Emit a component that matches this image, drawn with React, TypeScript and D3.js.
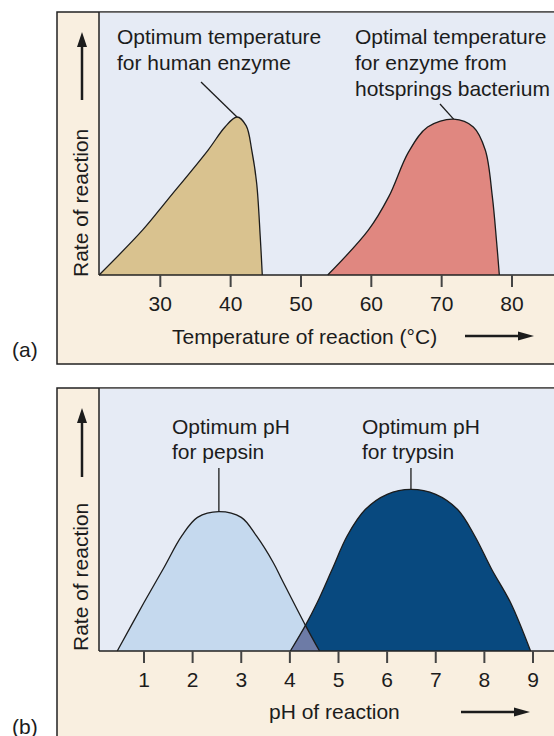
import * as d3 from 'd3';

// temperature panel (a)
const tempTicks = [30, 40, 50, 60, 70, 80];
const humanTemp = [21.3, 27.5, 31, 36.8, 39.2, 40.9, 42.2, 43.0, 43.7, 44.2, 44.5];
const humanRate = [0, 0.172, 0.286, 0.477, 0.565, 0.603, 0.57, 0.477, 0.35, 0.15, 0];
const hotTemp = [53.8, 59.6, 62.5, 65.3, 68, 71.7, 74.5, 76.2, 77.2, 77.8, 78.2];
const hotRate = [0, 0.172, 0.3, 0.47, 0.565, 0.595, 0.565, 0.477, 0.3, 0.13, 0];

// pH panel (b)
const phTicks = [1, 2, 3, 4, 5, 6, 7, 8, 9];
const pepsinPh = [0.45, 1.0, 1.4, 1.78, 2.1, 2.54, 3.0, 3.31, 3.66, 3.84, 4.32, 4.61];
const pepsinRate = [0, 0.185, 0.315, 0.44, 0.51, 0.532, 0.51, 0.44, 0.337, 0.271, 0.098, 0];
const trypsinPh = [4.01, 4.32, 4.56, 4.87, 5.18, 5.55, 6.0, 6.49, 7.0, 7.45, 7.8, 8.15, 8.54, 8.95];
const trypsinRate = [0, 0.098, 0.184, 0.312, 0.44, 0.54, 0.598, 0.617, 0.598, 0.54, 0.44, 0.312, 0.184, 0];

const font = '"Liberation Sans", Arial, sans-serif';
const fs = 21;
const beige = '#f9efe0';
const plotBg = '#e6ebf5';
const ink = '#1c1c1c';

const zip = (xs: number[], ys: number[]) => xs.map((x, i) => [x, ys[i]] as [number, number]);

const peakOf = (pts: [number, number][]) => pts.reduce((a, b) => (b[1] > a[1] ? b : a));

export default function App() {
  const left = 57;
  const plotLeft = 99;
  const right = 570;

  // panel a
  const aTop = 12, aBase = 275, aBottom = 364;
  const xT = d3.scaleLinear().domain([30, 80]).range([160.3, 512]);
  const yA = d3.scaleLinear().domain([0, 1]).range([aBase, aBase - 262]);

  // panel b
  const bTop = 388, bBase = 651;
  const xP = d3.scaleLinear().domain([1, 9]).range([144, 533]);
  const yB = d3.scaleLinear().domain([0, 1]).range([bBase, bBase - 262]);

  const curve = d3.curveCatmullRom.alpha(0.5);
  const areaA = d3.area<[number, number]>().x(d => xT(d[0])).y0(aBase).y1(d => yA(d[1])).curve(curve);
  const lineA = d3.line<[number, number]>().x(d => xT(d[0])).y(d => yA(d[1])).curve(curve);
  const areaB = d3.area<[number, number]>().x(d => xP(d[0])).y0(bBase).y1(d => yB(d[1])).curve(curve);
  const lineB = d3.line<[number, number]>().x(d => xP(d[0])).y(d => yB(d[1])).curve(curve);

  const human = zip(humanTemp, humanRate);
  const hot = zip(hotTemp, hotRate);
  const pepsin = zip(pepsinPh, pepsinRate);
  const trypsin = zip(trypsinPh, trypsinRate);

  const hp = peakOf(human), tp = peakOf(hot), pp = peakOf(pepsin), yp = peakOf(trypsin);

  const rateLabel = (baseY: number, arrowTop: number, arrowBottom: number) => (
    <g>
      <text transform={`translate(88,${baseY}) rotate(-90)`} fontSize={fs} fill={ink}>Rate of reaction</text>
      <line x1={82} y1={arrowBottom} x2={82} y2={arrowTop + 12} stroke={ink} strokeWidth={2.5} />
      <path d={`M82,${arrowTop} L77,${arrowTop + 15} L87,${arrowTop + 15} Z`} fill={ink} />
    </g>
  );

  const hArrow = (x1: number, x2: number, y: number) => (
    <g>
      <line x1={x1} y1={y} x2={x2 - 12} y2={y} stroke={ink} strokeWidth={2.5} />
      <path d={`M${x2},${y} L${x2 - 16},${y - 4.5} L${x2 - 16},${y + 4.5} Z`} fill={ink} />
    </g>
  );

  return (
    <svg width={554} height={736} style={{ position: 'absolute', left: 0, top: 0 }} fontFamily={font}>
      <rect width={554} height={736} fill="#fff" />

      {/* ---- panel (a) ---- */}
      <rect x={left} y={aTop} width={right - left} height={aBottom - aTop} fill={beige} stroke="#222" strokeWidth={1.5} />
      <rect x={plotLeft} y={aTop + 0.75} width={right - plotLeft} height={aBase - aTop - 0.75} fill={plotBg} />
      <path d={areaA(human) || ''} fill="#d9c28f" />
      <path d={lineA(human) || ''} fill="none" stroke={ink} strokeWidth={1.3} />
      <path d={areaA(hot) || ''} fill="#e08780" />
      <path d={lineA(hot) || ''} fill="none" stroke={ink} strokeWidth={1.3} />
      <line x1={plotLeft} y1={aTop} x2={plotLeft} y2={aBase} stroke="#222" strokeWidth={1.5} />
      <line x1={plotLeft} y1={aBase} x2={right} y2={aBase} stroke="#222" strokeWidth={1.5} />
      {tempTicks.map(t => (
        <g key={t}>
          <line x1={xT(t)} y1={aBase} x2={xT(t)} y2={aBase + 12} stroke="#444" strokeWidth={2} />
          <text x={xT(t)} y={aBase + 36} textAnchor="middle" fontSize={fs} fill={ink}>{t}</text>
        </g>
      ))}
      <text x={172} y={344} fontSize={fs} fill={ink}>Temperature of reaction (°C)</text>
      {hArrow(465, 534, 336)}
      {rateLabel(277, 32, 100)}
      <text x={12} y={357} fontSize={fs} fill={ink}>(a)</text>

      <text x={117} y={44} fontSize={fs} fill={ink}>Optimum temperature</text>
      <text x={117} y={70} fontSize={fs} fill={ink}>for human enzyme</text>
      <line x1={201} y1={82} x2={xT(hp[0])} y2={yA(hp[1])} stroke={ink} strokeWidth={1.3} />

      <text x={355} y={44} fontSize={fs} fill={ink}>Optimal temperature</text>
      <text x={355} y={70} fontSize={fs} fill={ink}>for enzyme from</text>
      <text x={355} y={96} fontSize={fs} fill={ink}>hotsprings bacterium</text>
      <line x1={440} y1={104} x2={xT(tp[0])} y2={yA(tp[1])} stroke={ink} strokeWidth={1.3} />

      {/* ---- panel (b) ---- */}
      <rect x={left} y={bTop} width={right - left} height={400} fill={beige} stroke="#222" strokeWidth={1.5} />
      <rect x={plotLeft} y={bTop + 0.75} width={right - plotLeft} height={bBase - bTop - 0.75} fill={plotBg} />
      <defs>
        <clipPath id="trypsinClip">
          <path d={areaB(trypsin) || ''} />
        </clipPath>
      </defs>
      <path d={areaB(pepsin) || ''} fill="#c5d9ee" />
      <path d={areaB(trypsin) || ''} fill="#08497f" />
      <path d={areaB(pepsin) || ''} fill="#6d7ba6" clipPath="url(#trypsinClip)" />
      <path d={lineB(pepsin) || ''} fill="none" stroke={ink} strokeWidth={1.3} />
      <path d={lineB(trypsin) || ''} fill="none" stroke={ink} strokeWidth={1.3} />
      <line x1={plotLeft} y1={bTop} x2={plotLeft} y2={bBase} stroke="#222" strokeWidth={1.5} />
      <line x1={plotLeft} y1={bBase} x2={right} y2={bBase} stroke="#222" strokeWidth={1.5} />
      {phTicks.map(t => (
        <g key={t}>
          <line x1={xP(t)} y1={bBase} x2={xP(t)} y2={bBase + 12} stroke="#444" strokeWidth={2} />
          <text x={xP(t)} y={bBase + 36} textAnchor="middle" fontSize={fs} fill={ink}>{t}</text>
        </g>
      ))}
      <text x={269} y={719} fontSize={fs} fill={ink}>pH of reaction</text>
      {hArrow(461, 530, 712)}
      {rateLabel(651, 408, 477)}
      <text x={12} y={734} fontSize={fs} fill={ink}>(b)</text>

      <text x={172} y={434} fontSize={fs} fill={ink}>Optimum pH</text>
      <text x={172} y={459} fontSize={fs} fill={ink}>for pepsin</text>
      <line x1={xP(pp[0])} y1={468} x2={xP(pp[0])} y2={yB(pp[1])} stroke={ink} strokeWidth={1.3} />

      <text x={362} y={434} fontSize={fs} fill={ink}>Optimum pH</text>
      <text x={362} y={459} fontSize={fs} fill={ink}>for trypsin</text>
      <line x1={xP(yp[0])} y1={468} x2={xP(yp[0])} y2={yB(yp[1])} stroke={ink} strokeWidth={1.3} />
    </svg>
  );
}
